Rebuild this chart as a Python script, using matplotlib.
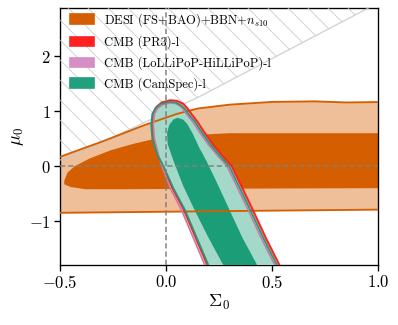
import matplotlib
matplotlib.use("Agg")
import matplotlib.pyplot as plt
from matplotlib.patches import Patch

plt.rcParams['font.family'] = 'serif'
plt.rcParams['font.serif'] = ['cmr10']
plt.rcParams['mathtext.fontset'] = 'cm'
plt.rcParams['axes.formatter.use_mathtext'] = True
plt.rcParams['hatch.linewidth'] = 0.6

# ---------------- data (contour vertices) ----------------
# DESI (FS+BAO)+BBN+n_s10 : 95% region (upper & lower edges)
desi95_top_sig = [-0.6, -0.5, -0.3, -0.1, 0.05, 0.15, 0.3, 0.5, 0.7, 0.85, 1.05]
desi95_top_mu = [0.05, 0.17, 0.45, 0.75, 0.95, 1.05, 1.12, 1.17, 1.18, 1.16, 1.17]
desi95_bot_sig = [1.05, 0.5, 0.0, -0.5, -0.6]
desi95_bot_mu = [-0.79, -0.81, -0.83, -0.85, -0.85]
# 68% region
desi68_sig = [-0.48, -0.465, -0.43, -0.36, -0.26, -0.15, -0.05, 0.1, 0.3, 1.05,
              1.05, 0.3, -0.2, -0.38, -0.45, -0.48]
desi68_mu = [-0.27, -0.12, 0.0, 0.14, 0.29, 0.41, 0.5, 0.56, 0.6, 0.6,
             -0.4, -0.41, -0.42, -0.42, -0.38, -0.33]

# CMB (PR3)-l : 95% contour
pr3_sig = [0.21, 0.195, 0.14, 0.085, 0.03, -0.015, -0.04, -0.06, -0.065, -0.06, -0.045,
           -0.02, 0.02, 0.05, 0.08, 0.10, 0.12, 0.15, 0.18, 0.22, 0.27, 0.31, 0.36,
           0.41, 0.47, 0.535, 0.56]
pr3_mu = [-2.0, -1.8, -1.3, -0.8, -0.4, 0.0, 0.2, 0.5, 0.75, 0.95, 1.08,
          1.16, 1.2, 1.19, 1.14, 1.06, 0.95, 0.8, 0.62, 0.4, 0.17, 0.0, -0.4,
          -0.8, -1.3, -1.8, -2.0]
# CMB (LoLLiPoP-HiLLiPoP)-l : 95% contour
ll_sig = [0.2, 0.183, 0.128, 0.073, 0.02, -0.02, -0.035, -0.055, -0.06, -0.055, -0.04,
          -0.015, 0.02, 0.045, 0.068, 0.085, 0.1, 0.128, 0.158, 0.198, 0.248, 0.288,
          0.338, 0.388, 0.448, 0.513, 0.54]
ll_mu = [-2.0, -1.8, -1.3, -0.8, -0.4, 0.0, 0.2, 0.5, 0.75, 0.95, 1.05,
         1.12, 1.15, 1.14, 1.09, 1.02, 0.93, 0.8, 0.62, 0.4, 0.17, 0.0,
         -0.4, -0.8, -1.3, -1.8, -2.0]
# CMB (CamSpec)-l : 95% contour
cs95_sig = [0.215, 0.2, 0.145, 0.09, 0.035, -0.012, -0.04, -0.065, -0.07, -0.065, -0.05,
            -0.025, 0.015, 0.045, 0.07, 0.09, 0.108, 0.138, 0.168, 0.208, 0.258, 0.298,
            0.348, 0.398, 0.458, 0.523, 0.55]
cs95_mu = [-2.0, -1.8, -1.3, -0.8, -0.4, 0.0, 0.2, 0.5, 0.75, 0.95, 1.06,
           1.13, 1.17, 1.16, 1.11, 1.04, 0.94, 0.8, 0.62, 0.4, 0.17, 0.0,
           -0.4, -0.8, -1.3, -1.8, -2.0]
# CMB (CamSpec)-l : 68% contour
cs68_sig = [0.28, 0.27, 0.2, 0.135, 0.08, 0.035, 0.008, 0.005, 0.015, 0.035, 0.055,
            0.08, 0.1, 0.125, 0.155, 0.19, 0.24, 0.3, 0.36, 0.43, 0.45]
cs68_mu = [-2.0, -1.8, -1.3, -0.8, -0.35, 0.1, 0.4, 0.6, 0.75, 0.85, 0.88,
           0.85, 0.77, 0.6, 0.35, 0.1, -0.3, -0.8, -1.3, -1.8, -2.0]

# excluded (hatched) region boundary
excl_sig = [-0.6, -0.43, 0.16, 0.95, 1.2, -0.6]
excl_mu = [-0.02, 0.2, 1.27, 2.87, 3.4, 3.4]

labels = [r'DESI (FS+BAO)+BBN+$n_{s10}$', 'CMB (PR3)-l',
          'CMB (LoLLiPoP-HiLLiPoP)-l', 'CMB (CamSpec)-l']

# ---------------- style ----------------
c_desi = '#d55e00'
c_desi_l = '#eebf99'
c_red = '#ff2020'
c_red_l = '#ffa6a6'
c_pink = '#cc79a7'
c_pink_l = '#ebc9dc'
c_green = '#1b9e77'
c_green_l = '#a4d8c9'

fig = plt.figure(figsize=(398 / 120, 325 / 120), dpi=120)
ax = fig.add_axes([60 / 398, 1 - 265 / 325, 318 / 398, 257 / 325])

# DESI
ax.fill(desi95_top_sig + desi95_bot_sig, desi95_top_mu + desi95_bot_mu,
        color=c_desi_l, lw=0, zorder=1)
ax.fill(desi68_sig, desi68_mu, color=c_desi, lw=0, zorder=2)

# hatched excluded region
ax.fill(excl_sig, excl_mu, facecolor='none', edgecolor='#c8c8c8', hatch='\\\\',
        lw=0.8, alpha=0.8, zorder=3)

# CMB fills
ax.fill(pr3_sig, pr3_mu, color=c_red_l, lw=0, zorder=4)
ax.fill(ll_sig, ll_mu, color=c_pink_l, lw=0, zorder=4.5)
ax.fill(cs95_sig, cs95_mu, color=c_green_l, lw=0, zorder=5)
ax.fill(cs68_sig, cs68_mu, color=c_green, lw=0, zorder=5.5)

# DESI outer edge lines
ax.plot(desi95_top_sig, desi95_top_mu, color=c_desi, lw=1.1, zorder=6)
ax.plot(desi95_bot_sig, desi95_bot_mu, color=c_desi, lw=1.1, zorder=6)

# CMB lines
ax.plot(pr3_sig, pr3_mu, color=c_red, lw=1.2, zorder=7)
ax.plot(ll_sig, ll_mu, color=c_pink, lw=1.0, zorder=7)
ax.plot(cs95_sig, cs95_mu, color=c_green, lw=1.0, zorder=7)

# reference lines
ax.axvline(0, color='gray', lw=0.9, ls=(0, (3.5, 2)), zorder=8)
ax.axhline(0, color='gray', lw=0.9, ls=(0, (3.5, 2)), zorder=8)

ax.set_xlim(-0.5, 1.0)
ax.set_ylim(-1.8, 2.88)
ax.set_xticks([-0.5, 0.0, 0.5, 1.0])
ax.set_yticks([-1, 0, 1, 2])
ax.tick_params(direction='out', length=3.5, width=0.8, labelsize=10, pad=2)
for s in ax.spines.values():
    s.set_linewidth(0.8)

ax.set_xlabel(r'$\Sigma_0$', fontsize=11, labelpad=1)
ax.set_ylabel(r'$\mu_0$', fontsize=11, labelpad=2)

handles = [Patch(facecolor=c_desi, edgecolor=c_desi),
           Patch(facecolor=c_red, edgecolor=c_red),
           Patch(facecolor='#d58ec6', edgecolor='#d58ec6'),
           Patch(facecolor='#21a07e', edgecolor='#21a07e')]
ax.legend(handles, labels, loc='upper left', bbox_to_anchor=(10 / 318, 1 - 3 / 257),
          frameon=False, fontsize=7.5, handlelength=1.9, handleheight=0.8,
          handletextpad=0.85, labelspacing=0.55, borderpad=0, borderaxespad=0)

fig.savefig('out.png', dpi=120)
